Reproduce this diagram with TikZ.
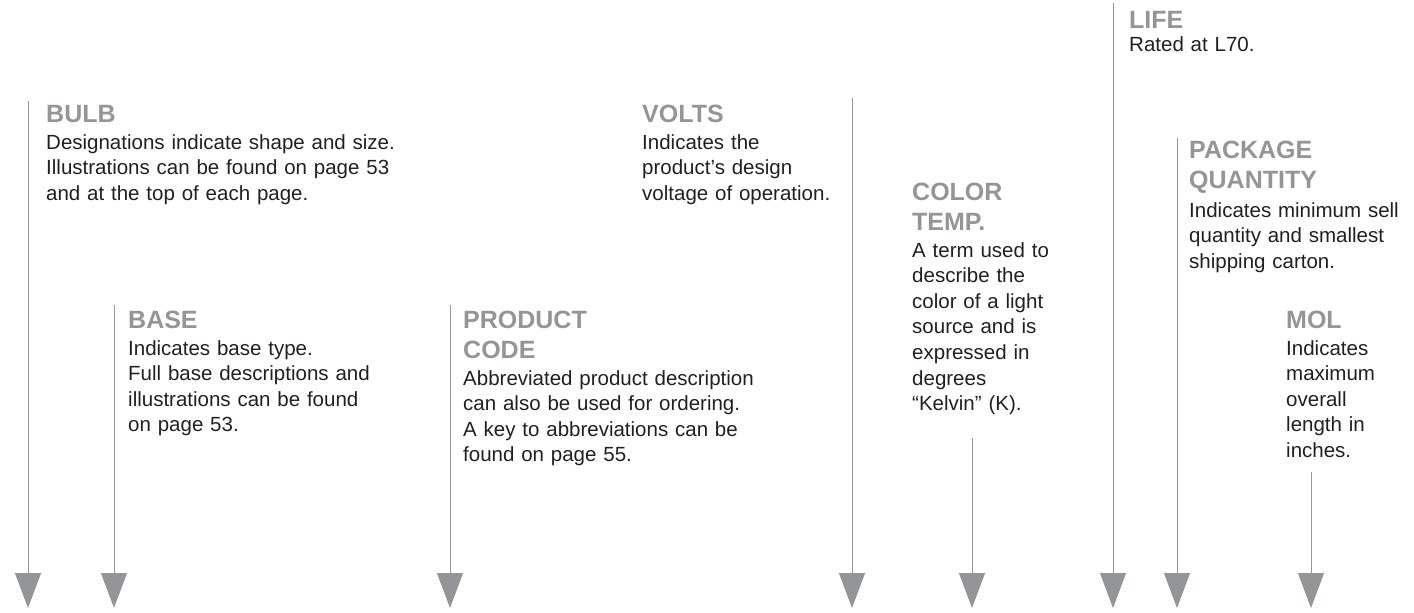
\documentclass[tikz,border=0pt]{standalone}
\usepackage{fontspec}
\setmainfont{Liberation Sans}
\usetikzlibrary{arrows.meta}
\definecolor{capgray}{HTML}{939598}
\definecolor{leadgray}{HTML}{939598}
\definecolor{bodyblack}{HTML}{231F20}

\begin{document}
\begin{tikzpicture}[x=1pt,y=-1pt,
  head/.style={anchor=base west, inner sep=0pt, text width=300pt, align=left,
    font=\fontsize{25}{30}\selectfont\bfseries, text=capgray},
  body/.style={anchor=base west, inner sep=0pt, text width=400pt, align=left,
    font=\fontsize{20.5}{25.6}\selectfont, text=bodyblack},
  lead/.style={draw=leadgray, line width=1pt,
    -{Triangle[width=26pt,length=35pt,fill=leadgray]}}]
\useasboundingbox (0,0) rectangle (1414,613);

% leader lines with their arrowheads
\coordinate (bulb-top)  at (28,101);   \coordinate (bulb-tip)  at (28,608);
\coordinate (base-top)  at (114,305);  \coordinate (base-tip)  at (114,608);
\coordinate (code-top)  at (450,305);  \coordinate (code-tip)  at (450,608);
\coordinate (volts-top) at (852,98);   \coordinate (volts-tip) at (852,608);
\coordinate (temp-top)  at (972,438);  \coordinate (temp-tip)  at (972,608);
\coordinate (life-top)  at (1113,3);   \coordinate (life-tip)  at (1113,608);
\coordinate (pack-top)  at (1177,138); \coordinate (pack-tip)  at (1177,608);
\coordinate (mol-top)   at (1311,472); \coordinate (mol-tip)   at (1311,608);

\foreach \n in {bulb,base,code,volts,temp,life,pack,mol}
  \draw[lead] (\n-top) -- (\n-tip);

% BULB
\node[head] (bulb-h) at (46,122) {BULB};
\node[body] (bulb-b) at (46,149) {Designations indicate shape and size.\\
  Illustrations can be found on page 53\\ and at the top of each page.};

% BASE
\node[head] (base-h) at (128,328) {BASE};
\node[body] (base-b) at (128,355) {Indicates base type.\\
  Full base descriptions and\\ illustrations can be found\\ on page 53.};

% PRODUCT CODE
\node[head] (code-h) at (463,328) {PRODUCT\\ CODE};
\node[body] (code-b) at (463,385) {Abbreviated product description\\
  can also be used for ordering.\\ A key to abbreviations can be\\ found on page 55.};

% VOLTS
\node[head] (volts-h) at (642,122) {VOLTS};
\node[body] (volts-b) at (642,149) {Indicates the\\ product’s design\\ voltage of operation.};

% COLOR TEMP.
\node[head] (temp-h) at (912,200) {COLOR\\ TEMP.};
\node[body] (temp-b) at (912,257) {A term used to\\ describe the\\ color of a light\\
  source and is\\ expressed in\\ degrees\\ “Kelvin” (K).};

% LIFE
\node[head] (life-h) at (1129,28) {LIFE};
\node[body] (life-b) at (1129,51) {Rated at L70.};

% PACKAGE QUANTITY
\node[head] (pack-h) at (1189,158) {PACKAGE\\ QUANTITY};
\node[body] (pack-b) at (1189,217) {Indicates minimum sell\\
  quantity and smallest\\ shipping carton.};

% MOL
\node[head] (mol-h) at (1286,328) {MOL};
\node[body] (mol-b) at (1286,355) {Indicates\\ maximum\\ overall\\ length in\\ inches.};
\end{tikzpicture}
\end{document}
